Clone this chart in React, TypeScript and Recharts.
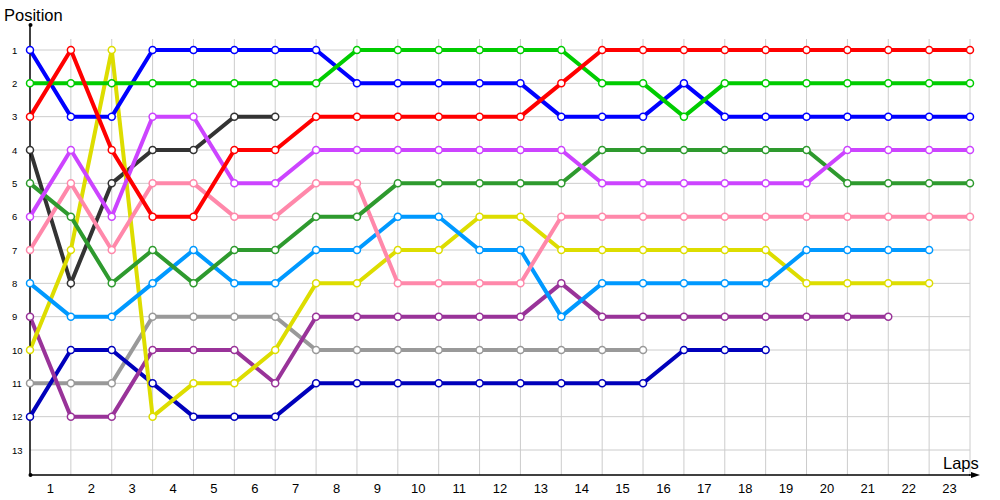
import React from "react";
import { LineChart, Line, XAxis, YAxis, ReferenceLine } from "recharts";

// laps 0..23 (start grid + each completed lap)
const LAPS = [0, 1, 2, 3, 4, 5, 6, 7, 8, 9, 10, 11, 12, 13, 14, 15, 16, 17, 18, 19, 20, 21, 22, 23];
const LAP_TICKS = [0.5, 1.5, 2.5, 3.5, 4.5, 5.5, 6.5, 7.5, 8.5, 9.5, 10.5, 11.5, 12.5, 13.5, 14.5, 15.5, 16.5, 17.5, 18.5, 19.5, 20.5, 21.5, 22.5];
const POSITIONS = [1, 2, 3, 4, 5, 6, 7, 8, 9, 10, 11, 12, 13];

// position per lap, null = retired
const red = [3, 1, 4, 6, 6, 4, 4, 3, 3, 3, 3, 3, 3, 2, 1, 1, 1, 1, 1, 1, 1, 1, 1, 1];
const green = [2, 2, 2, 2, 2, 2, 2, 2, 1, 1, 1, 1, 1, 1, 2, 2, 3, 2, 2, 2, 2, 2, 2, 2];
const blue = [1, 3, 3, 1, 1, 1, 1, 1, 2, 2, 2, 2, 2, 3, 3, 3, 2, 3, 3, 3, 3, 3, 3, 3];
const violet = [6, 4, 6, 3, 3, 5, 5, 4, 4, 4, 4, 4, 4, 4, 5, 5, 5, 5, 5, 5, 4, 4, 4, 4];
const darkGreen = [5, 6, 8, 7, 8, 7, 7, 6, 6, 5, 5, 5, 5, 5, 4, 4, 4, 4, 4, 4, 5, 5, 5, 5];
const pink = [7, 5, 7, 5, 5, 6, 6, 5, 5, 8, 8, 8, 8, 6, 6, 6, 6, 6, 6, 6, 6, 6, 6, 6];
const skyBlue = [8, 9, 9, 8, 7, 8, 8, 7, 7, 6, 6, 7, 7, 9, 8, 8, 8, 8, 8, 7, 7, 7, 7, null];
const yellow = [10, 7, 1, 12, 11, 11, 10, 8, 8, 7, 7, 6, 6, 7, 7, 7, 7, 7, 7, 8, 8, 8, 8, null];
const plum = [9, 12, 12, 10, 10, 10, 11, 9, 9, 9, 9, 9, 9, 8, 9, 9, 9, 9, 9, 9, 9, 9, null, null];
const grey = [11, 11, 11, 9, 9, 9, 9, 10, 10, 10, 10, 10, 10, 10, 10, 10, null, null, null, null, null, null, null, null];
const navy = [12, 10, 10, 11, 12, 12, 12, 11, 11, 11, 11, 11, 11, 11, 11, 11, 10, 10, 10, null, null, null, null, null];
const black = [4, 8, 5, 4, 4, 3, 3, null, null, null, null, null, null, null, null, null, null, null, null, null, null, null, null, null];

const SERIES = [
  { key: "black", values: black, color: "#333333" },
  { key: "grey", values: grey, color: "#999999" },
  { key: "navy", values: navy, color: "#0000BB" },
  { key: "plum", values: plum, color: "#993399" },
  { key: "yellow", values: yellow, color: "#DDDD00" },
  { key: "skyBlue", values: skyBlue, color: "#0099FF" },
  { key: "pink", values: pink, color: "#FF88AA" },
  { key: "darkGreen", values: darkGreen, color: "#2E9A2E" },
  { key: "violet", values: violet, color: "#CC44FF" },
  { key: "blue", values: blue, color: "#0000FF" },
  { key: "green", values: green, color: "#00CC00" },
  { key: "red", values: red, color: "#FF0000" },
];

const data = LAPS.map((lap, i) => {
  const row: Record<string, number | null> = { lap };
  SERIES.forEach((s) => (row[s.key] = s.values[i]));
  return row;
});

const FONT = "'Liberation Sans', Arial, sans-serif";
const GRID = "#cccccc";

function LeftTick({ y, payload }: any) {
  return (
    <text x={12} y={y} dy={3.5} fontSize={9.5} fill="#000" textAnchor="start" fontFamily={FONT}>
      {payload.value}
    </text>
  );
}

function RightTick({ y, payload }: any) {
  return (
    <text x={976} y={y} dy={3.5} fontSize={9.5} fill="#000" textAnchor="start" fontFamily={FONT}>
      {payload.value}
    </text>
  );
}

export default function App() {
  return (
    <div style={{ position: "absolute", left: 0, top: 0, width: 1000, height: 500, fontFamily: FONT, background: "#fff" }}>
      <LineChart width={1000} height={500} data={data} margin={{ top: 25, right: 0, left: 0, bottom: 0 }}>
        <XAxis
          dataKey="lap"
          type="number"
          domain={[0, 23]}
          ticks={LAP_TICKS}
          tickFormatter={(v: number) => String(v + 0.5)}
          interval={0}
          tick={{ fontSize: 13, fill: "#000" }}
          tickLine={false}
          tickSize={0}
          tickMargin={9}
          axisLine={{ stroke: "#000", strokeWidth: 1.5 }}
          height={25}
        />
        <YAxis
          yAxisId="left"
          type="number"
          domain={[0.25, 13.75]}
          reversed
          ticks={POSITIONS}
          interval={0}
          tick={<LeftTick />}
          tickLine={false}
          axisLine={{ stroke: "#000", strokeWidth: 1.5 }}
          width={30}
        />
        <YAxis
          yAxisId="right"
          orientation="right"
          type="number"
          domain={[0.25, 13.75]}
          reversed
          ticks={POSITIONS}
          interval={0}
          tick={<RightTick />}
          tickLine={false}
          axisLine={false}
          width={30}
        />
        {POSITIONS.map((p) => (
          <ReferenceLine key={"h" + p} yAxisId="left" y={p} stroke={GRID} strokeWidth={1} />
        ))}
        {LAPS.slice(1).map((l) => (
          <ReferenceLine
            key={"v" + l}
            yAxisId="left"
            segment={[{ x: l, y: 0.67 }, { x: l, y: 13.75 }]}
            stroke={GRID}
            strokeWidth={1}
          />
        ))}
        {SERIES.map((s) => (
          <Line
            key={s.key}
            yAxisId="left"
            dataKey={s.key}
            stroke={s.color}
            strokeWidth={4}
            type="linear"
            dot={{ r: 3.5, fill: "#fff", stroke: s.color, strokeWidth: 1.5 }}
            activeDot={false}
            isAnimationActive={false}
          />
        ))}
      </LineChart>
      <svg width={1000} height={500} style={{ position: "absolute", left: 0, top: 0, pointerEvents: "none" }}>
        <text x={4} y={21} fontSize={16.5} fill="#000" fontFamily={FONT}>Position</text>
        <text x={943} y={469} fontSize={16.5} fill="#000" fontFamily={FONT}>Laps</text>
        <circle cx={30.5} cy={25} r={2} fill="#000" />
        <circle cx={30.5} cy={475} r={2} fill="#000" />
        <line x1={969} y1={475} x2={974} y2={475} stroke="#000" strokeWidth={1.5} />
        <polygon points="971,472 980,475 971,478" fill="#000" />
      </svg>
    </div>
  );
}
